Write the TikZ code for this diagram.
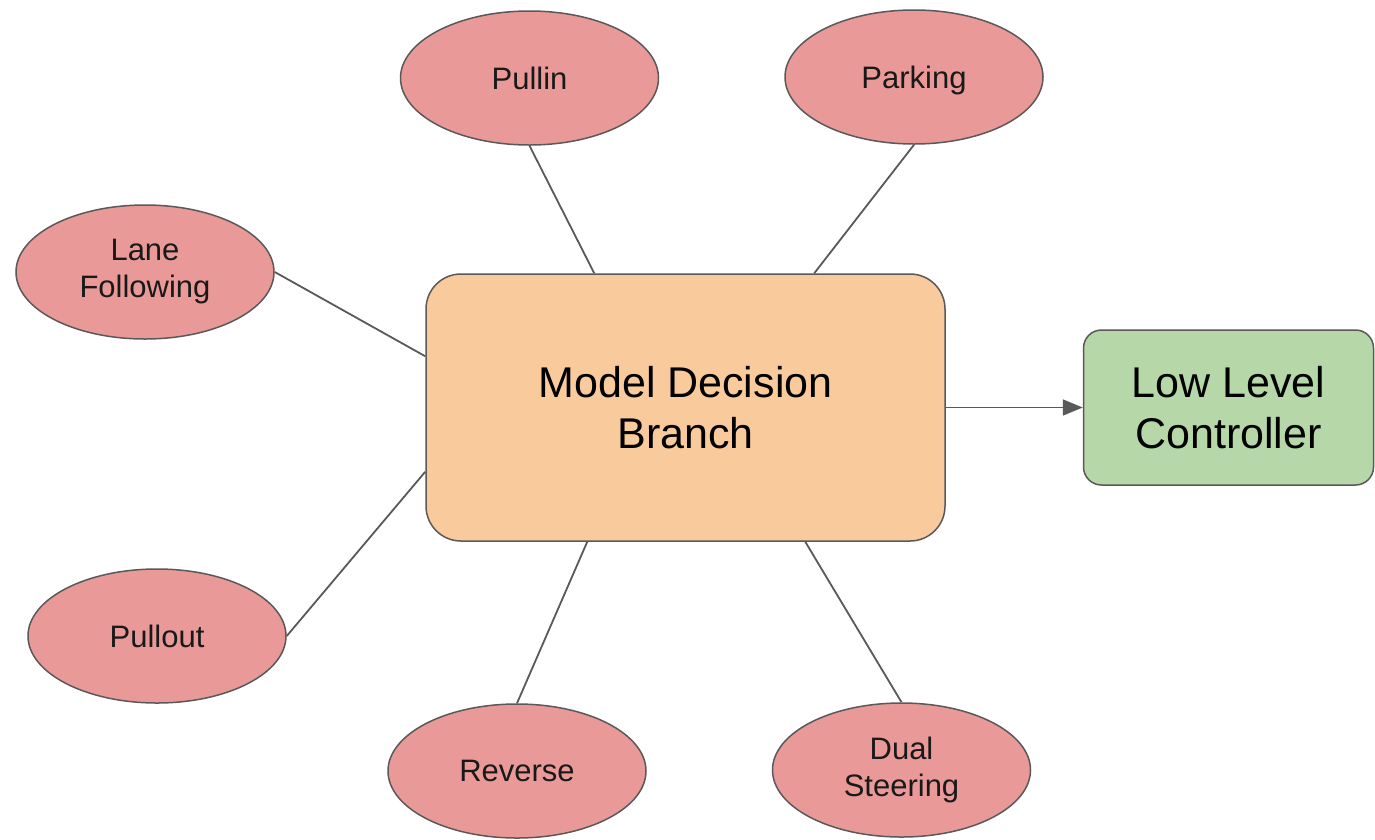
\documentclass[tikz,border=0pt]{standalone}
\usepackage{fontspec}
\setmainfont{Liberation Sans}
\usetikzlibrary{shapes.geometric,arrows.meta}
\definecolor{taskfill}{HTML}{EA9999}
\definecolor{mainfill}{HTML}{F9CB9C}
\definecolor{ctrlfill}{HTML}{B6D7A8}
\definecolor{edgegray}{HTML}{595959}
\tikzset{
  task/.style={ellipse, draw=edgegray, line width=1.5pt, fill=taskfill,
    minimum width=258pt, minimum height=134pt, inner sep=0pt,
    align=center, font=\fontsize{31}{37}\selectfont, text=black!90},
  bigbox/.style={rectangle, rounded corners=35pt, draw=edgegray, line width=1.5pt,
    fill=mainfill, minimum width=519pt, minimum height=267pt, inner sep=0pt,
    align=center, font=\fontsize{43}{51}\selectfont},
  ctrlbox/.style={rectangle, rounded corners=18pt, draw=edgegray, line width=1.5pt,
    fill=ctrlfill, minimum width=290pt, minimum height=155pt, inner sep=0pt,
    align=center, font=\fontsize{43}{51}\selectfont},
  link/.style={draw=edgegray, line width=1.8pt},
  flow/.style={link, -{Triangle[length=20pt, width=16pt]}}
}
\begin{document}
\begin{tikzpicture}[x=1pt, y=-1pt]
  \useasboundingbox (0,0) rectangle (1375,839);

  % central decision block and the controller it feeds
  \node[bigbox] (main) at (685.5,407.5) {Model Decision\\Branch};
  \node[ctrlbox] (ctrl) at (1228.5,407.5) {Low Level\\Controller};

  % driving behaviours around the decision block
  \node[task] (pullin)  at (529.5,78)  {Pullin};
  \node[task, text depth=0pt] (parking) at (914,77) {Parking};
  \node[task] (lane)    at (145,272)   {Lane\\Following};
  \node[task] (pullout) at (157,636)   {Pullout};
  \node[task] (reverse) at (517,771)   {Reverse};
  \node[task] (dual)    at (901.5,770) {Dual\\Steering};

  % spokes into the decision block
  \draw[link] (pullin.south)  -- ([xshift=169pt]main.north west);
  \draw[link] (parking.south) -- ([xshift=389pt]main.north west);
  \draw[link] (lane.east)     -- ([yshift=-83pt]main.north west);
  \draw[link] (pullout.east)  -- ([yshift=70pt]main.south west);
  \draw[link] (reverse.north) -- ([xshift=162pt]main.south west);
  \draw[link] (dual.north)    -- ([xshift=380pt]main.south west);

  % output to the controller
  \draw[flow] (main.east) -- (ctrl.west);
\end{tikzpicture}
\end{document}
